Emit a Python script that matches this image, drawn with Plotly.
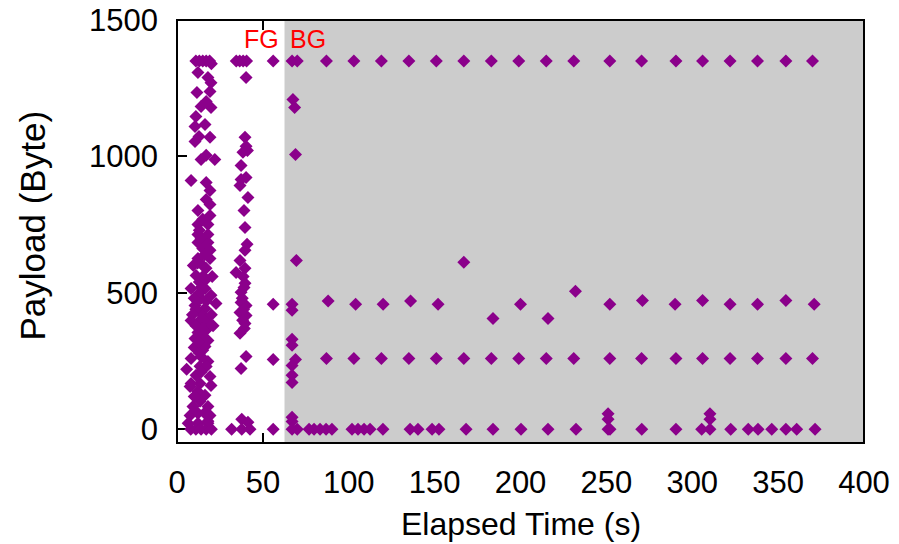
import plotly.graph_objects as go

# ---------------- data ----------------
# Foreground period (app in foreground), cluster 1
fg1_x = [11, 13, 15, 17, 19, 20,
         12.2, 18, 19.8, 11.6, 19.2, 17, 14, 19.8, 11, 16.3, 10.5, 12.8, 19.2, 10.5,
         14, 22, 17, 8.2, 17, 19.2, 17, 19.2, 12.2, 19.2, 12.2, 18, 12.2, 18, 12.2, 18,
         15, 19.2, 12.2, 19.2, 11.1, 16.9, 8.2, 16.3, 19.8, 22.7, 10.5, 16.3, 8.2, 12.2,
         18, 12.2, 16.9, 10.5, 18,
         16.3, 8.2, 14, 18, 13.4, 11.1, 19.2, 8.2, 13.4, 19.8, 16.3, 13.4, 9.3, 18,
         7.6, 12.2, 19.2, 6.5, 12.2, 18, 8, 11, 14, 17, 20, 5.6, 7.6,
         14, 15, 13, 14, 12, 15, 13, 17, 11, 14, 15, 10, 13,
         15, 13, 16, 12, 15, 14, 17, 13, 16, 11, 15, 13, 17, 14, 12, 16, 10, 18,
         9.5, 20.5, 9, 21, 10, 20]
fg1_y = [1350, 1350, 1350, 1350, 1350, 1340,
         1308, 1289, 1270, 1234, 1238, 1201, 1183, 1179, 1146, 1117, 1110, 1073, 1070, 1055,
         989, 989, 1004, 912, 905, 875, 842, 824, 802, 784, 751, 751, 714, 714, 685, 685,
         663, 656, 626, 626, 564, 590, 516, 516, 491, 461, 454, 443, 399, 392,
         392, 355, 363, 333, 326,
         304, 260, 267, 249, 231, 198, 194, 168, 168, 161, 125, 103, 84, 84,
         51, 59, 51, 22, 22, 22, 0, 0, 0, 0, 0, 220, 157,
         700, 600, 540, 480, 470, 420, 430, 470, 380, 340, 290, 300, 280,
         770, 730, 640, 610, 560, 520, 550, 500, 410, 440, 370, 320, 230, 210, 140, 60, 120, 30,
         600, 560, 420, 380, 480, 420]

# Foreground period, cluster 2
fg2_x = [34.5, 36.5, 38.5, 40.5, 40.2, 39.6, 40.2, 38.4, 41, 37.3, 40.2, 37.3, 36.7,
         41.3, 39, 39.6, 40.8, 39.6, 36.7, 34.4, 39.6, 39.6, 37.3, 37.3, 40.2, 36.7,
         40.2, 39.6, 36.7, 40.2, 37.3, 37.7, 41.3, 31.8, 37.7, 42.5,
         38.5, 39, 38, 38.8, 38.2, 39.2]
fg2_y = [1350, 1350, 1350, 1350, 1289, 1070, 1037, 1015, 1022, 967, 923, 916, 894,
         850, 802, 740, 678, 656, 619, 575, 590, 535, 502, 465, 454, 428,
         417, 388, 352, 267, 223, 37, 26, 0, 0, 0,
         560, 520, 480, 440, 400, 370]

# Isolated FG packets
fg3_x = [56, 56, 56, 56]
fg3_y = [1350, 458, 256, 0]

# Background period: start-of-background burst
bg0_x = [67, 70, 67.5, 68.5, 69, 69.5, 67, 67, 67, 67, 69, 67, 67, 67, 67, 67, 67, 70]
bg0_y = [1350, 1350, 1209, 1179, 1007, 619, 458, 436, 330, 308, 256, 234, 198, 172,
         44, 29, 0, 0]

# Background periodic rows
bg_top_x = [87, 103, 119, 135, 151, 167, 183, 199, 215, 231, 252, 270.5, 290.5, 306,
            322, 338, 354.5, 370]
bg_top_y = [1350] * len(bg_top_x)

bg_260_x = [87, 103, 119, 135, 151, 167, 183, 199, 215, 231, 252, 270.5, 290.5, 306,
            322, 338, 354.5, 370]
bg_260_y = [260] * len(bg_260_x)

bg_mid_x = [88, 104, 120, 136, 152, 167, 184, 200, 216, 232, 252, 271, 290, 306,
            322, 338, 354.5, 371]
bg_mid_y = [470, 458, 458, 470, 458, 612, 406, 458, 406, 506, 458, 472, 458, 472,
            458, 458, 472, 458]

bg_low_x = [76.9, 79.8, 83.3, 86.8, 90.2, 101.9, 105.4, 108.9, 112.4, 119.9, 135.7,
            140.3, 148.5, 152.5, 168.3, 184, 200.3, 216, 232.3, 251, 251, 251, 252.1,
            270.6, 290.5, 305.5, 310.3, 310.3, 310.3, 322.4, 332.6, 338.3, 346.3, 354.5,
            360.8, 371.5]
bg_low_y = [0, 0, 0, 0, 0, 0, 0, 0, 0, 0, 0,
            0, 0, 0, 0, 0, 0, 0, 0, 57, 37, 0, 0,
            0, 0, 0, 57, 37, 0, 0, 0, 0, 0, 0,
            0, 0]

bg_start = 62.6
x_range = [0, 400]
y_range = [-50, 1500]
x_ticks = [0, 50, 100, 150, 200, 250, 300, 350, 400]
y_ticks = [0, 500, 1000, 1500]

all_x = fg1_x + fg2_x + fg3_x + bg0_x + bg_top_x + bg_260_x + bg_mid_x + bg_low_x
all_y = fg1_y + fg2_y + fg3_y + bg0_y + bg_top_y + bg_260_y + bg_mid_y + bg_low_y

FONT = "Liberation Sans, Arial, sans-serif"
PURPLE = "#8b008b"

fig = go.Figure()

# Background (gray) region as a filled trace so it covers axis ticks
fig.add_trace(go.Scatter(
    x=[bg_start, x_range[1], x_range[1], bg_start, bg_start],
    y=[y_range[0], y_range[0], y_range[1], y_range[1], y_range[0]],
    fill="toself", fillcolor="#cccccc", mode="none",
    hoverinfo="skip", showlegend=False))

fig.add_trace(go.Scatter(
    x=all_x, y=all_y, mode="markers",
    marker=dict(symbol="diamond", size=10, color=PURPLE, line=dict(width=0)),
    showlegend=False))

fig.update_layout(
    width=899, height=544,
    margin=dict(l=177, r=35, t=20, b=101, autoexpand=False),
    paper_bgcolor="white", plot_bgcolor="white",
    font=dict(family=FONT, size=31, color="black"),
    showlegend=False,
)

fig.update_xaxes(
    range=x_range, tickvals=x_ticks, ticks="inside", ticklen=10, tickwidth=1.5,
    tickcolor="black", mirror="ticks", showgrid=False, zeroline=False, showline=False,
    layer="below traces", ticklabelstandoff=18, automargin=False,
    tickfont=dict(family=FONT, size=31))
fig.update_yaxes(
    range=y_range, tickvals=y_ticks, ticks="inside", ticklen=10, tickwidth=1.5,
    tickcolor="black", mirror="ticks", showgrid=False, zeroline=False, showline=False,
    layer="below traces", ticklabelstandoff=18, automargin=False,
    tickfont=dict(family=FONT, size=31))

# Frame on top
fig.add_shape(type="rect", xref="paper", yref="paper", x0=0, x1=1, y0=0, y1=1,
              line=dict(color="black", width=2), layer="above")

fig.add_annotation(x=0.5, y=0, xref="paper", yref="paper", text="Elapsed Time (s)",
                   showarrow=False, yanchor="middle", yshift=-81,
                   font=dict(family=FONT, size=32))
fig.add_annotation(x=0, y=0.5, xref="paper", yref="paper", text="Payload (Byte)",
                   showarrow=False, textangle=-90, xanchor="center", xshift=-145,
                   yshift=6, font=dict(family=FONT, size=35))

fig.add_annotation(x=60.5, y=1432, text="FG", showarrow=False, xanchor="right",
                   yanchor="middle", font=dict(family=FONT, size=25, color="red"))
fig.add_annotation(x=64.5, y=1432, text="BG", showarrow=False, xanchor="left",
                   yanchor="middle", font=dict(family=FONT, size=25, color="red"))

fig.write_html("out.html")
